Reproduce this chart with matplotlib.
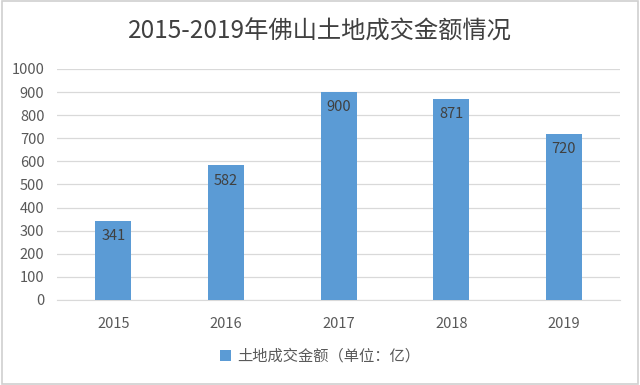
import matplotlib
matplotlib.use("Agg")
import matplotlib.pyplot as plt
from matplotlib.patches import Rectangle

plt.rcParams['font.family'] = ['Noto Sans CJK SC', 'DejaVu Sans']

years = ["2015", "2016", "2017", "2018", "2019"]
values = [341, 582, 900, 871, 720]
yticks = [0, 100, 200, 300, 400, 500, 600, 700, 800, 900, 1000]
title = "2015-2019年佛山土地成交金额情况"
legend_label = "土地成交金额（单位：亿）"

bar_color = "#5B9BD5"
text_color = "#595959"

fig = plt.figure(figsize=(6.4, 3.85), dpi=100)
ax = fig.add_axes([0.089, 0.221, 0.88, 0.60])

x = list(range(len(years)))
bars = ax.bar(x, values, width=0.32, color=bar_color, zorder=3, label=legend_label)
for xi, v in zip(x, values):
    ax.text(xi, v - 35, str(v), ha="center", va="top", fontsize=10.5, color="#404040", zorder=4)

ax.set_xlim(-0.5, len(years) - 0.5)
ax.set_ylim(0, 1000)
ax.set_yticks(yticks)
ax.set_yticklabels([str(t) for t in yticks], fontsize=10.5, color=text_color)
ax.set_xticks(x)
ax.set_xticklabels(years, fontsize=10.5, color=text_color)
ax.yaxis.grid(True, color="#D9D9D9", linewidth=0.9, zorder=0)
for s in ax.spines.values():
    s.set_visible(False)
ax.spines['bottom'].set_visible(True)
ax.spines['bottom'].set_color("#D9D9D9")
ax.tick_params(axis='y', length=0, pad=9)
ax.tick_params(axis='x', length=0, pad=12)

fig.text(0.5, 0.918, title, ha="center", va="center", fontsize=17.5, color="#404040")

leg = fig.legend(handles=[bars], labels=[legend_label], loc="center", bbox_to_anchor=(0.5, 0.075),
                 frameon=False, fontsize=11, handlelength=0.7, handleheight=0.7, handletextpad=0.4)
for t in leg.get_texts():
    t.set_color(text_color)

fig.patches.append(Rectangle((0.003, 0.003), 0.994, 0.994, transform=fig.transFigure,
                             fill=False, edgecolor="#D0D0D0", linewidth=1.2))

fig.savefig("out.png", dpi=100, facecolor="white")
